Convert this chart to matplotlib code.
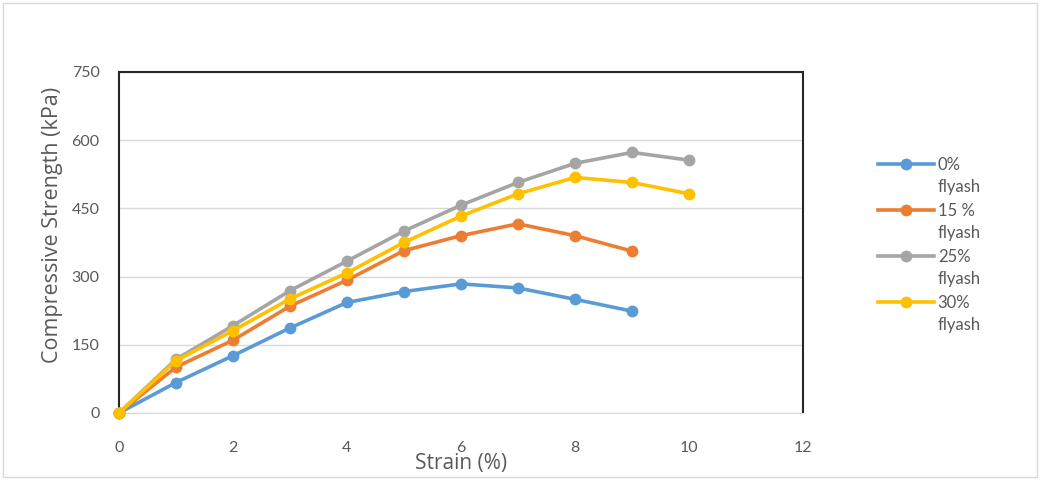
import matplotlib.pyplot as plt
from matplotlib.patches import Rectangle

plt.rcParams['font.family'] = ['Lato', 'DejaVu Sans']

strain = [0, 1, 2, 3, 4, 5, 6, 7, 8, 9, 10]
fly0 = [0, 67, 126, 187, 243, 267, 284, 275, 250, 224]
fly15 = [0, 101, 160, 235, 292, 357, 390, 416, 390, 356]
fly25 = [0, 118, 192, 269, 334, 400, 457, 507, 549, 573, 556]
fly30 = [0, 115, 181, 251, 308, 375, 433, 482, 518, 507, 482]

labels = ['0%', '15 %', '25%', '30%']
colors = ['#5b9bd5', '#ed7d31', '#a5a5a5', '#ffc000']
series = [fly0, fly15, fly25, fly30]

fig = plt.figure(figsize=(10.4, 4.79), dpi=100)
ax = fig.add_axes([0.1144, 0.1378, 0.6577, 0.712])

for ys, c, lab in zip(series, colors, labels):
    ax.plot(strain[:len(ys)], ys, color=c, lw=2.6, marker='o', ms=7.5,
            label=lab, clip_on=False, zorder=3)

ax.set_xlim(0, 12)
ax.set_ylim(0, 750)
ax.set_xticks(range(0, 13, 2))
ax.set_yticks(range(0, 751, 150))
ax.grid(axis='y', color='#d9d9d9', lw=1)
ax.set_axisbelow(True)
for s in ['left', 'top', 'right']:
    ax.spines[s].set_color('#262626')
    ax.spines[s].set_linewidth(1.5)
ax.spines['bottom'].set_color('#d9d9d9')
ax.tick_params(length=0, labelsize=11.5, colors='#595959')
ax.tick_params(axis='x', pad=20)
ax.tick_params(axis='y', pad=14)

ax.set_xlabel('Strain (%)', fontsize=15, color='#595959', labelpad=-1,
              family=['Open Sans', 'DejaVu Sans'])
ax.set_ylabel('Compressive Strength (kPa)', fontsize=15.5, color='#595959',
              family=['Open Sans', 'DejaVu Sans'])
ax.yaxis.set_label_coords(-0.082, 0.55)

# legend: first line next to the handle, "flyash" on the line below
leg = ax.legend(loc='upper left', bbox_to_anchor=(0.844, 0.672),
                bbox_transform=fig.transFigure, frameon=False, borderpad=0,
                borderaxespad=0, fontsize=12, labelcolor='#595959',
                handlelength=3.4, labelspacing=1.8, handletextpad=0.2)
fig.canvas.draw()
inv = fig.transFigure.inverted()
for t in leg.get_texts():
    bb = t.get_window_extent()
    x0, y0 = inv.transform((bb.x0, bb.y0 - 6))
    fig.text(x0, y0, 'flyash', va='top', ha='left', fontsize=12, color='#595959')

fig.patches.append(Rectangle((0.003, 0.004), 0.994, 0.99, transform=fig.transFigure,
                             fill=False, ec='#d9d9d9', lw=1))

fig.savefig('out.png')
